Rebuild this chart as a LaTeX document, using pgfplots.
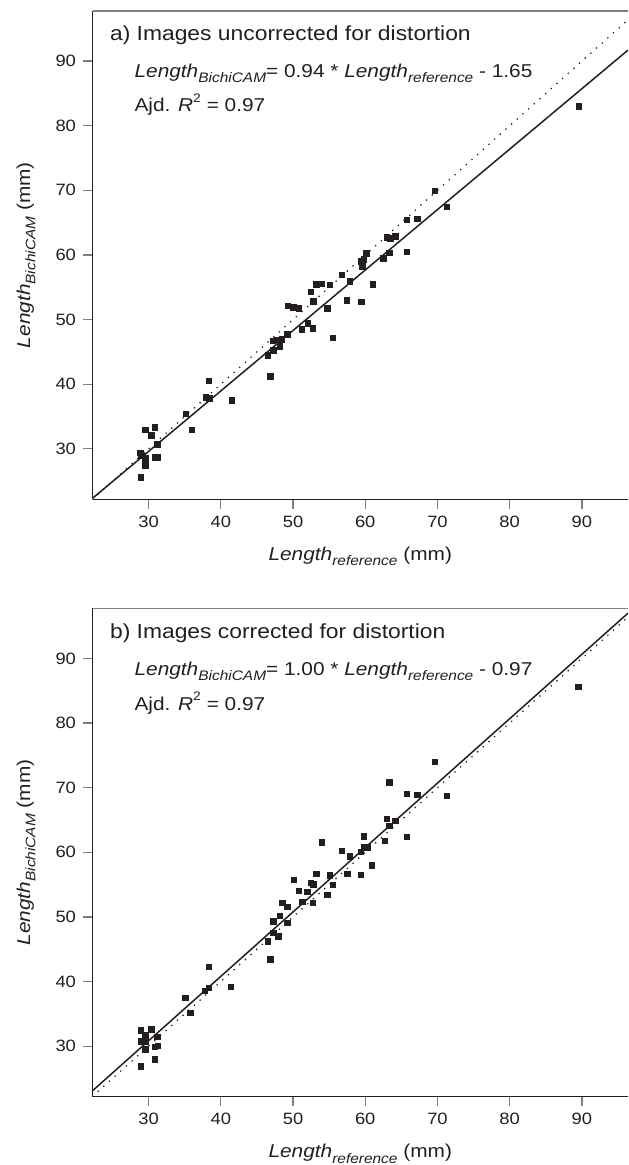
\documentclass[border=0pt]{standalone}
\usepackage{fontspec}
\setmainfont{Liberation Sans}[FakeStretch=1.12]
\usepackage{pgfplots}
\usepackage{pgfplotstable}
\pgfplotsset{compat=1.18}
\definecolor{ink}{HTML}{231F20}
\definecolor{frame}{HTML}{7F7F7F}
\newcommand{\sub}[1]{\raisebox{-0.55ex}{\fontsize{6.9}{7}\selectfont\itshape #1}}
\newcommand{\sq}{\raisebox{0.95ex}{\fontsize{6.2}{7}\selectfont 2}}

\pgfplotstableread{
x y
28.90 29.40
29.00 29.00
28.95 25.60
29.60 28.50
29.60 27.40
29.60 32.95
30.40 32.10
30.90 33.30
30.90 28.70
31.30 28.70
31.25 30.70
35.15 35.40
36.00 32.95
37.95 37.95
38.40 37.85
38.35 40.55
41.55 37.50
46.90 41.20
46.50 44.45
47.30 45.20
48.20 45.85
47.20 46.70
47.75 46.85
48.45 46.90
49.25 47.70
51.25 48.45
52.05 49.40
52.75 48.60
55.55 47.20
49.30 52.15
50.05 51.85
50.80 51.70
52.45 54.30
52.80 52.80
53.20 55.45
53.95 55.55
55.10 55.40
54.80 51.70
56.75 56.90
57.85 55.90
57.45 53.00
59.50 52.75
61.05 55.45
59.60 58.20
59.50 59.00
59.80 59.35
60.20 60.20
62.50 59.50
63.35 60.35
65.75 60.50
63.00 62.70
63.50 62.60
64.15 62.85
65.75 65.40
67.25 65.60
69.65 69.90
71.30 67.45
89.60 82.95
}\dataA

\pgfplotstableread{
x y
28.95 32.40
28.95 30.70
28.95 26.90
29.60 31.70
29.60 30.70
29.60 29.55
30.40 32.60
30.90 28.00
30.90 29.90
31.30 30.05
31.25 31.45
35.10 37.45
35.80 35.15
37.80 38.55
38.35 39.00
38.35 42.25
41.40 39.15
46.90 43.45
46.50 46.25
47.30 47.50
47.25 49.35
48.00 47.00
48.20 50.15
48.50 52.15
49.25 51.55
49.25 49.05
50.15 55.70
50.80 54.00
51.30 52.30
52.00 53.90
52.45 55.25
52.85 55.05
52.75 52.15
53.20 56.65
54.00 61.50
54.80 53.40
55.10 56.45
55.50 54.95
56.75 60.20
57.85 59.40
57.55 56.65
59.40 56.50
60.90 58.00
59.40 60.05
59.80 62.50
59.90 60.80
60.35 60.80
62.70 61.75
63.35 64.10
63.00 65.15
64.15 64.85
63.35 70.85
65.75 62.40
65.75 69.05
67.25 68.85
69.65 74.00
71.30 68.70
89.50 85.60
}\dataB

\pgfplotsset{
  panel/.style={
    scale only axis, width=267.75pt, height=244.15pt,
    xmin=22.24, xmax=96.38, ymin=22.2, ymax=97.75,
    axis x line*=bottom, axis y line*=left,
    axis line style={ink, line width=0.65pt},
    xtick={30,40,...,90}, ytick={30,40,...,90},
    tick align=outside, major tick length=4.75pt,
    tick style={frame, line width=0.6pt},
    /pgf/number format/assume math mode=true,
    tick label style={font=\fontsize{8.2}{9}\selectfont, text=ink},
    label style={font=\fontsize{9.3}{11}\selectfont, text=ink},
    xlabel={\textit{Length}\sub{reference} (mm)},
    ylabel={\textit{Length}\sub{BichiCAM} (mm)},
    xlabel style={at={(axis description cs:0.5,-0.1249)}, anchor=base},
    ylabel style={at={(axis description cs:-0.1167,0.5)}, anchor=base},
  },
  pts/.style={only marks, mark=square*, mark size=1.4pt, color=ink},
  fit/.style={ink, line width=0.75pt},
  one/.style={ink, line width=0.9pt, line cap=round, dash pattern=on 0pt off 3.8pt},
}

\begin{document}
\begin{tikzpicture}
\useasboundingbox (0,0) rectangle (314pt,-582.5pt);

\begin{axis}[panel, at={(46.25pt,-5.5pt)}, anchor=north west]
  \addplot[one] coordinates {(22.24,22.24) (96.38,96.38)};
  \addplot[fit] coordinates {(22.24,22.35) (96.38,91.7)};
  \addplot[pts] table[x=x,y=y] {\dataA};
  \draw[frame, line width=0.65pt] (rel axis cs:0,1) -- (rel axis cs:1,1);
  \node[anchor=base west, font=\fontsize{10.2}{12}\selectfont, text=ink] at (axis description cs:0.0196,0.9394) {a) Images uncorrected for distortion};
  \node[anchor=base west, font=\fontsize{9.3}{11}\selectfont, text=ink] at (axis description cs:0.0654,0.864) {\textit{Length}\sub{BichiCAM}= 0.94 * \textit{Length}\sub{reference} - 1.65};
  \node[anchor=base west, font=\fontsize{9.3}{11}\selectfont, text=ink] at (axis description cs:0.0654,0.794) {Ajd. \textit{R}\sq\ = 0.97};
\end{axis}

\begin{axis}[panel, at={(46.25pt,-304.15pt)}, anchor=north west]
  \addplot[one] coordinates {(22.24,22.24) (96.38,96.38)};
  \addplot[fit] coordinates {(22.24,23.1) (96.38,97.0)};
  \addplot[pts] table[x=x,y=y] {\dataB};
  \draw[frame, line width=0.65pt] (rel axis cs:0,1) -- (rel axis cs:1,1);
  \node[anchor=base west, font=\fontsize{10.2}{12}\selectfont, text=ink] at (axis description cs:0.0196,0.9386) {b) Images corrected for distortion};
  \node[anchor=base west, font=\fontsize{9.3}{11}\selectfont, text=ink] at (axis description cs:0.0654,0.8634) {\textit{Length}\sub{BichiCAM}= 1.00 * \textit{Length}\sub{reference} - 0.97};
  \node[anchor=base west, font=\fontsize{9.3}{11}\selectfont, text=ink] at (axis description cs:0.0654,0.7917) {Ajd. \textit{R}\sq\ = 0.97};
\end{axis}
\end{tikzpicture}
\end{document}
